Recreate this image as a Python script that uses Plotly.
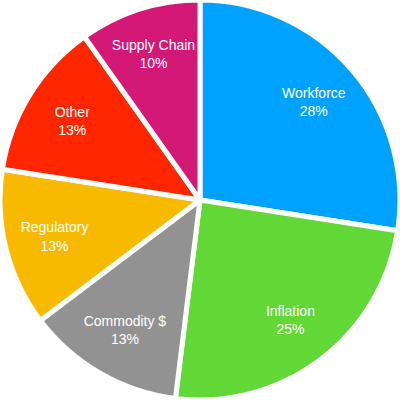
import plotly.graph_objects as go

labels = ["Workforce", "Inflation", "Commodity $", "Regulatory", "Other", "Supply Chain"]
values = [28, 25, 13, 13, 13, 10]
colors = ["#00A2FF", "#61D836", "#929292", "#F8BA00", "#FF2600", "#D41876"]

fig = go.Figure()
# Filled slices with white separators
fig.add_trace(go.Pie(
    labels=labels,
    values=values,
    sort=False,
    direction="clockwise",
    rotation=0,
    marker=dict(colors=colors, line=dict(color="white", width=5)),
    textinfo="none",
    hoverinfo="label+value",
))
# Transparent ring carrying the labels (places text further out)
fig.add_trace(go.Pie(
    labels=labels,
    values=values,
    sort=False,
    direction="clockwise",
    rotation=0,
    hole=0.5,
    marker=dict(colors=["rgba(0,0,0,0)"] * len(labels), line=dict(width=0)),
    texttemplate="%{label}<br>%{value}%",
    textposition="inside",
    insidetextorientation="horizontal",
    textfont=dict(family="Liberation Sans, Arial, sans-serif", size=14, color="white"),
    hoverinfo="skip",
))
fig.update_layout(
    width=400, height=400,
    margin=dict(l=0, r=0, t=0, b=0),
    showlegend=False,
    paper_bgcolor="white",
    plot_bgcolor="white",
)
fig.write_html("out.html", config={"displayModeBar": False},
               post_script="document.body.style.margin='0';")
